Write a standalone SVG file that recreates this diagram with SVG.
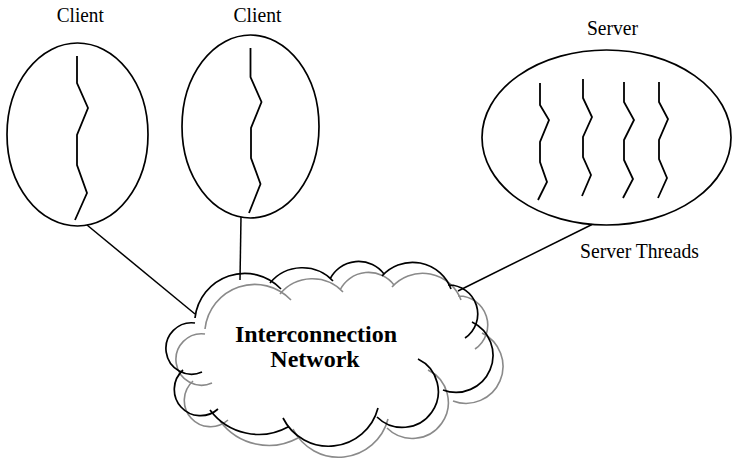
<svg xmlns="http://www.w3.org/2000/svg" width="732" height="459" viewBox="0 0 732 459">
<style>
.bg{fill:#fff}
.ell{fill:none;stroke:#000;stroke-width:1.7}
.thr{fill:none;stroke:#000;stroke-width:1.8;stroke-linejoin:miter}
.con{fill:none;stroke:#000;stroke-width:1.5}
.cb{fill:none;stroke:#000;stroke-width:1.7}
.cg{fill:none;stroke:#8a8a8a;stroke-width:1.6}
.lbl{font-family:"Liberation Serif","Times New Roman",serif;font-size:22px;fill:#000}
.net{font-family:"Liberation Serif","Times New Roman",serif;font-size:24px;font-weight:bold;fill:#000;text-anchor:middle}
</style>
<defs>
<path id="cloudPath" d="M195,318 A50,50 0 0 1 281,289 M270,283 A42,42 0 0 1 333,281 M330,279 A32,32 0 0 1 384,274 M382,276 A41,41 0 0 1 451,289 M448,285 A29,29 0 0 1 465,338 M472,322 A37,37 0 0 1 443,390 M418,359 A36,36 0 1 1 377,417 M378,408 A51,51 0 0 1 283,418 M288,427 A61,61 0 0 1 210,410 M218,409 A26,26 0 0 1 183,370 M202,372 A25.7,25.7 0 1 1 195,323"/>
</defs>
<rect class="bg" x="0" y="0" width="732" height="459"/>
<g id="connectors">
<line class="con" x1="87" y1="225" x2="195" y2="314"/>
<line class="con" x1="241" y1="217" x2="240" y2="280"/>
<line class="con" x1="592" y1="224.5" x2="458" y2="291"/>
</g>
<g id="client1">
<ellipse class="ell" cx="77.5" cy="134.5" rx="70.5" ry="91.5"/>
<polyline class="thr" points="77,56 77,83 88,108 77,135 77,165 87,193 75,220"/>
<text class="lbl" x="80.3" y="21.7" text-anchor="middle" textLength="47" lengthAdjust="spacingAndGlyphs">Client</text>
</g>
<g id="client2">
<ellipse class="ell" cx="250.5" cy="126.5" rx="68.5" ry="91.5"/>
<polyline class="thr" points="250.5,48 250.5,77 261.5,102 251,128 251,158 260.5,184 249,213"/>
<text class="lbl" x="257.5" y="22" text-anchor="middle" textLength="48" lengthAdjust="spacingAndGlyphs">Client</text>
</g>
<g id="server">
<ellipse class="ell" cx="606.5" cy="137.5" rx="124.5" ry="87.5"/>
<polyline class="thr" points="540,83 540,105 549,120 540,142 540,162 547,182 538,200"/>
<polyline class="thr" points="583,79 583,98 592,117 583,137 583,157 591,175 582,196"/>
<polyline class="thr" points="624,82 624,102 634,120 624,140 624,160 633,179 623,198"/>
<polyline class="thr" points="659,82 659,102 668,119 659,140 659,159 667,178 658,198"/>
<text class="lbl" x="612.5" y="35" text-anchor="middle" textLength="51" lengthAdjust="spacingAndGlyphs">Server</text>
<text class="lbl" x="580" y="258" textLength="119" lengthAdjust="spacingAndGlyphs">Server Threads</text>
</g>
<g id="network">
<use href="#cloudPath" class="cg" transform="translate(10,11)"/>
<use href="#cloudPath" class="cb"/>
<text class="net" x="316" y="341.5">Interconnection</text>
<text class="net" x="315" y="366.5">Network</text>
</g>
</svg>
